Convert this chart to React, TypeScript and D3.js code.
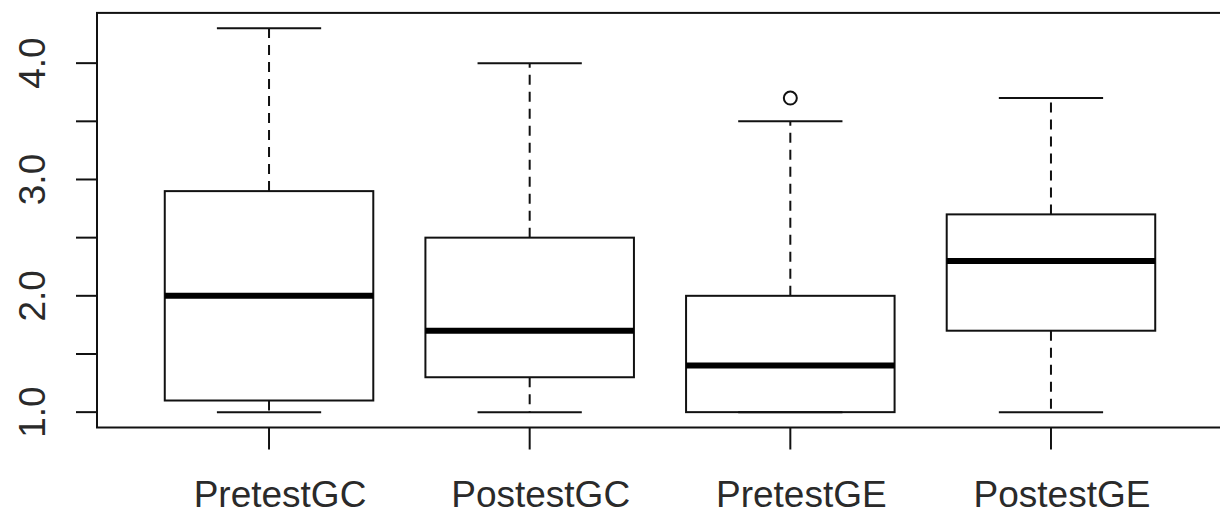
import { useEffect, useRef } from "react";
import * as d3 from "d3";

const groups = ["PretestGC", "PostestGC", "PretestGE", "PostestGE"];
const lowerWhisker = [1.0, 1.0, 1.0, 1.0];
const q1 = [1.1, 1.3, 1.0, 1.7];
const medians = [2.0, 1.7, 1.4, 2.3];
const q3 = [2.9, 2.5, 2.0, 2.7];
const upperWhisker = [4.3, 4.0, 3.5, 3.7];
const outliers = [[], [], [3.7], []];
const yTicks = [1.0, 1.5, 2.0, 2.5, 3.0, 3.5, 4.0];
const yLabels = [1.0, 2.0, 3.0, 4.0];

const W = 1220;
const H = 511;

const App = () => {
  const chartRef = useRef(null);

  useEffect(() => {
    document.body.style.margin = "0";
    const svg = d3
      .select(chartRef.current)
      .append("svg")
      .attr("width", W)
      .attr("height", H)
      .style("display", "block")
      .style("background", "#fff");

    const x = d3.scaleLinear().domain([0.34, 4.66]).range([97, 1223]);
    const y = d3.scaleLinear().domain([0.868, 4.432]).range([427.5, 12.9]);
    const unit = x(2) - x(1);
    const boxW = unit * 0.8;
    const capW = boxW / 2;
    const ink = "#111";
    const textInk = "#2a2a2a";
    const font = "'Liberation Sans', Arial, sans-serif";

    const data = groups.map((g, i) => ({
      g,
      pos: i + 1,
      lo: lowerWhisker[i],
      q1: q1[i],
      med: medians[i],
      q3: q3[i],
      hi: upperWhisker[i],
      out: outliers[i],
    }));

    const g = svg.append("g");

    // boxes
    const box = g
      .selectAll(".box")
      .data(data)
      .enter()
      .append("g")
      .attr("class", "box");

    // dashed whiskers
    box
      .append("line")
      .attr("x1", (d) => x(d.pos))
      .attr("x2", (d) => x(d.pos))
      .attr("y1", (d) => y(d.q3))
      .attr("y2", (d) => y(d.hi))
      .attr("stroke", ink)
      .attr("stroke-width", 2)
      .attr("stroke-dasharray", "10,7");
    box
      .filter((d) => d.q1 > d.lo)
      .append("line")
      .attr("x1", (d) => x(d.pos))
      .attr("x2", (d) => x(d.pos))
      .attr("y1", (d) => y(d.q1))
      .attr("y2", (d) => y(d.lo))
      .attr("stroke", ink)
      .attr("stroke-width", 2)
      .attr("stroke-dasharray", "10,7");

    // caps
    ["hi", "lo"].forEach((k) => {
      box
        .append("line")
        .attr("x1", (d) => x(d.pos) - capW / 2)
        .attr("x2", (d) => x(d.pos) + capW / 2)
        .attr("y1", (d) => y(d[k]))
        .attr("y2", (d) => y(d[k]))
        .attr("stroke", ink)
        .attr("stroke-width", 2);
    });

    box
      .append("rect")
      .attr("x", (d) => x(d.pos) - boxW / 2)
      .attr("y", (d) => y(d.q3))
      .attr("width", boxW)
      .attr("height", (d) => y(d.q1) - y(d.q3))
      .attr("fill", "none")
      .attr("stroke", ink)
      .attr("stroke-width", 2);

    box
      .append("line")
      .attr("x1", (d) => x(d.pos) - boxW / 2)
      .attr("x2", (d) => x(d.pos) + boxW / 2)
      .attr("y1", (d) => y(d.med))
      .attr("y2", (d) => y(d.med))
      .attr("stroke", "#000")
      .attr("stroke-width", 6);

    box
      .selectAll(".out")
      .data((d) => d.out.map((v) => ({ pos: d.pos, v })))
      .enter()
      .append("circle")
      .attr("cx", (d) => x(d.pos))
      .attr("cy", (d) => y(d.v))
      .attr("r", 6.5)
      .attr("fill", "none")
      .attr("stroke", ink)
      .attr("stroke-width", 2);

    // frame
    const [x0, x1] = x.range();
    const [yb, yt] = y.range();
    g.append("rect")
      .attr("x", x0)
      .attr("y", yt)
      .attr("width", x1 - x0)
      .attr("height", yb - yt)
      .attr("fill", "none")
      .attr("stroke", ink)
      .attr("stroke-width", 2);

    // y axis
    g.selectAll(".ytick")
      .data(yTicks)
      .enter()
      .append("line")
      .attr("x1", x0 - 21)
      .attr("x2", x0)
      .attr("y1", (d) => y(d))
      .attr("y2", (d) => y(d))
      .attr("stroke", ink)
      .attr("stroke-width", 2);

    g.selectAll(".ylab")
      .data(yLabels)
      .enter()
      .append("text")
      .attr("transform", (d) => `translate(45,${y(d)}) rotate(-90)`)
      .attr("text-anchor", "middle")
      .style("font-family", font)
      .style("font-size", "37px")
      .style("fill", textInk)
      .text((d) => d.toFixed(1));

    // x axis
    g.selectAll(".xtick")
      .data(data)
      .enter()
      .append("line")
      .attr("x1", (d) => x(d.pos))
      .attr("x2", (d) => x(d.pos))
      .attr("y1", yb)
      .attr("y2", yb + 22)
      .attr("stroke", ink)
      .attr("stroke-width", 2);

    g.selectAll(".xlab")
      .data(data)
      .enter()
      .append("text")
      .attr("x", (d) => x(d.pos) + 11)
      .attr("y", 507)
      .attr("text-anchor", "middle")
      .style("font-family", font)
      .style("font-size", "37px")
      .style("fill", textInk)
      .text((d) => d.g);

    return () => {
      svg.remove();
    };
  }, []);

  return <div ref={chartRef}></div>;
};

export default App;
